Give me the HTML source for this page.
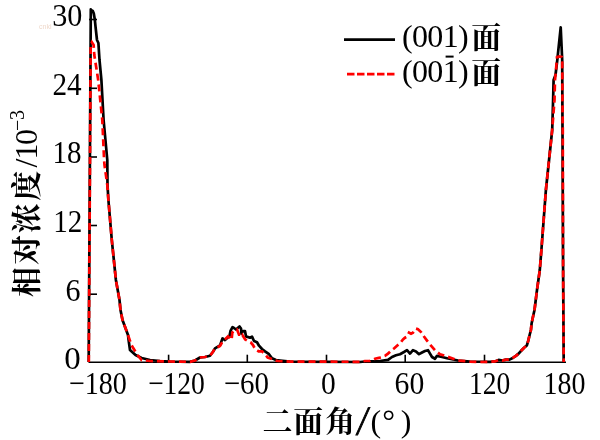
<!DOCTYPE html>
<html><head><meta charset="utf-8"><style>
html,body{margin:0;padding:0;background:#fff;}
svg{display:block;}
</style></head><body>
<svg width="600" height="440" viewBox="0 0 600 440">
<rect width="600" height="440" fill="#fff"/>
<text x="39" y="28.8" font-family="'Liberation Sans', sans-serif" font-size="7" fill="#efd9cb">cnki</text>
<g stroke="#000" stroke-width="1.6" fill="none">
<line x1="88.5" y1="362.2" x2="566" y2="362.2"/>
<line x1="89" y1="19.5" x2="97" y2="19.5"/><line x1="89" y1="88.3" x2="97" y2="88.3"/><line x1="89" y1="157" x2="97" y2="157"/><line x1="89" y1="225.5" x2="97" y2="225.5"/><line x1="89" y1="294.2" x2="97" y2="294.2"/><line x1="168.6" y1="362" x2="168.6" y2="354.7"/><line x1="247.3" y1="362" x2="247.3" y2="354.7"/><line x1="326.5" y1="362" x2="326.5" y2="354.7"/><line x1="405.2" y1="362" x2="405.2" y2="354.7"/><line x1="484.5" y1="362" x2="484.5" y2="354.7"/>
</g>
<polyline points="88.7,362 90.8,9.3 91.8,10.5 92.8,11 93.8,13.5 94.8,19.5 95.6,27.3 97,40 98.4,43 99.5,60 101.4,80 103.6,120 107.3,160 107.5,185 108.4,200 111.8,240 115.9,280 119.5,300 120.5,310 122.5,320 128,335 128.6,340 130,350 135.5,355 141.6,358 150,360 160,361 170,361.5 190,361.8 195,360.5 200,357.5 205,357 210,355.8 213,351.8 215,348.4 220,345.4 222.5,338.4 225,340 228,337.2 229.5,336 230.5,330.9 232.5,327.2 234,328 236,329.5 239.5,326.5 241,328.5 241.5,334 243,331 245,331 246,336.4 250,337.7 252,336.6 254,341 257,342.3 259,345.7 262,349 265,351.4 269,354.2 272,358.2 276,360 280,360.5 290,361.6 360,362 365,361.5 380,361 388,359.9 392,357 396,355.3 400,354.2 404,352 407,350.2 410,353.6 413,350.2 416,351.4 419,354.2 422,352.5 425,351 428,350.2 430,353.6 432,357 435,358.75 437,355.9 442,357 447,358.2 452,359.3 458,360.5 470,361.5 490,361.8 495,361.4 498.6,359.9 502.3,360.5 505.9,359.6 509.5,359.6 513.2,357.7 515.9,355.9 518.6,353.6 521.4,350.5 524.1,347.7 526.8,345.5 528.2,340.9 529.5,335.5 530.9,330 531.6,323.6 533,316.8 534.5,310 537,290 539.8,270 541.4,250 545.9,190 552.2,130 553.1,100 553.6,80 555.5,75 557.3,60 560.7,27.3 562.2,60 562.5,130 563,250 563.7,362" fill="none" stroke="#000" stroke-width="2.7" stroke-linejoin="round"/>
<polyline points="88.8,362 90.7,45 91.9,42.3 93.6,45 94.3,55 98.2,80 102.3,120 104.1,160 104.5,165 107.3,185 108.4,200 111.8,240 115.9,280 119.5,300 120.5,310 122.5,320 128,335 131.4,345 137.5,355 141.6,360 150,361 170,361.5 190,361.8 195,360.5 200,357.5 205,357 210,355.8 213,351.8 215,348.4 220,346 222,342.5 225,339.4 228,336.4 230,338.5 231.6,339.8 232.3,332.6 234,331 237,329.5 238,332 239,334.7 240.5,334.7 241.8,336.7 242.5,335.3 245.2,339.4 247.3,340.6 250.7,342.3 253,345.1 255.2,349.1 258.6,351.4 262,351.4 265.5,354.8 267.7,357.6 271.1,358.75 274.5,360.5 278,361 290,361.6 360,361.8 365,361 370,361 375,358.75 380,357.6 385,355.9 388,353.6 391,350.8 394,348.5 397,345.7 400,343.4 403,339.4 405,337.7 407,336.6 409,332.6 411,333.75 413,332.6 416,328.6 418,329.2 421,332 424,336.6 427,340.6 431,345.7 435,350.2 440,354.2 447,356.5 452,358.2 458,360.5 470,361.6 480,362 490,361.8 495,361.4 498.6,359.9 502.3,360.5 505.9,359.6 509.5,359.6 513.2,357.7 515.9,355.9 518.6,353.6 521.4,350.5 524.1,347.7 526.8,345.5 528.2,340.9 529.5,335.5 530.9,330 531.6,323.6 533,316.8 534.5,310 537,290 539.8,270 541.4,250 545.9,190 552.2,130 554.5,100 555,80 556,70 557,57 559.5,56.4 561.8,57 562.2,60 562.5,100 562.8,130 563,250 563.7,362" fill="none" stroke="#ff0000" stroke-width="2.7" stroke-dasharray="7 4"/>
<g font-family="'Liberation Serif', serif" font-size="32" fill="#000">
<text transform="translate(52.16 26.2) scale(0.943 1)">30</text><text transform="translate(52.39 95) scale(0.913 1)">24</text><text transform="translate(52.58 163.2) scale(0.907 1)">18</text><text transform="translate(53.27 232) scale(0.911 1)">12</text><text transform="translate(65.61 300.9) scale(0.939 1)">6</text><text transform="translate(64.27 369.3) scale(1.029 1)">0</text>
<text transform="translate(68.79 393.7) scale(0.879 1)">−180</text><text transform="translate(147.88 393.7) scale(0.862 1)">−120</text><text transform="translate(223.69 393.7) scale(0.904 1)">−60</text><text transform="translate(321.08 393.7) scale(0.921 1)">0</text><text transform="translate(394.57 393.7) scale(0.927 1)">60</text><text transform="translate(469.02 393.7) scale(0.861 1)">120</text><text transform="translate(543.43 393.7) scale(0.874 1)">180</text>
</g>
<text x="262.6 293.25 325.2" y="432" font-family="'Noto Serif CJK SC', serif" font-weight="700" font-size="30">二面角</text>
<text transform="translate(356 429.6) skewX(-8)" font-family="'Noto Serif CJK SC', serif" font-weight="700" font-size="28.5" stroke="#000" stroke-width="0.9">/</text>
<text x="370.45 382.25 400.85" y="431.5" font-family="'Liberation Serif', serif" font-size="32">(°)</text>
<g transform="translate(37 300) rotate(-90)">
<text x="3.1 35 66.8 99.3" y="0" font-family="'Noto Serif CJK SC', serif" font-weight="700" font-size="30">相对浓度</text>
<text x="132.5 140.5 155" y="0" font-family="'Liberation Serif', serif" font-size="32">/10</text>
<text x="169 180" y="-12.8" font-family="'Liberation Serif', serif" font-size="20">−3</text>
</g>
<line x1="344" y1="39.7" x2="395" y2="39.7" stroke="#000" stroke-width="2.8"/>
<line x1="347" y1="74.2" x2="395" y2="74.2" stroke="#f00" stroke-width="2.8" stroke-dasharray="7.5 2.5"/>
<g font-family="'Liberation Serif', serif" font-size="32" fill="#000">
<text x="402 411.9 427.35 442.75 458.1" y="47.3">(001)</text>
<text x="402 411.9 427.35 442.75 458.1" y="82">(001)</text>
</g>
<line x1="445.6" y1="56.6" x2="453.6" y2="56.6" stroke="#000" stroke-width="2"/>
<g font-family="'Noto Serif CJK SC', serif" font-weight="700" font-size="30" fill="#000">
<text x="471.35" y="48.3">面</text>
<text x="471.35" y="83.3">面</text>
</g>
</svg>
</body></html>
